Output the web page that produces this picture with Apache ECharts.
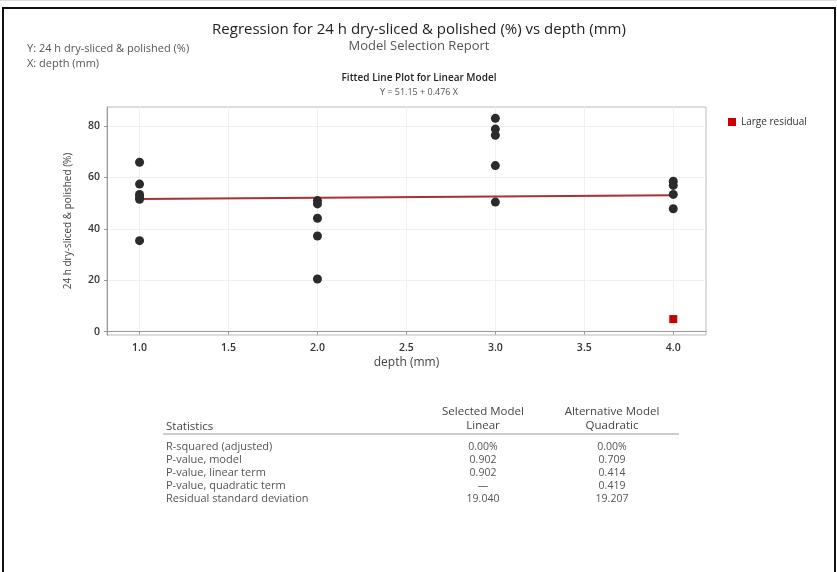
<!DOCTYPE html>
<html>
<head>
<meta charset="utf-8">
<script src="https://cdn.jsdelivr.net/npm/echarts@6/dist/echarts.min.js"></script>
<style>
html,body{margin:0;padding:0;background:#fff;}
#chart{width:837px;height:572px;}
</style>
</head>
<body>
<div id="chart"></div>
<script>
// ---- data ----
var depthPoints = [
  [1, 65.9], [1, 57.4], [1, 53.4], [1, 52.4], [1, 51.5], [1, 35.4],
  [2, 51.0], [2, 49.7], [2, 44.1], [2, 37.2], [2, 20.5],
  [3, 83.0], [3, 78.8], [3, 76.4], [3, 64.6], [3, 50.4],
  [4, 58.5], [4, 56.9], [4, 53.4], [4, 47.8]
];
var largeResidualPoints = [[4, 4.9]];
var fittedLine = [[1, 51.63], [4, 53.05]];
var xTicks = [1.0, 1.5, 2.0, 2.5, 3.0, 3.5, 4.0];
var yTicks = [0, 20, 40, 60, 80];

var tableHeader1 = ['', 'Selected Model', 'Alternative Model'];
var tableHeader2 = ['Statistics', 'Linear', 'Quadratic'];
var statLabels = ['R-squared (adjusted)', 'P-value, model', 'P-value, linear term', 'P-value, quadratic term', 'Residual standard deviation'];
var linearValues = ['0.00%', '0.902', '0.902', '\u2014', '19.040'];
var quadraticValues = ['0.00%', '0.709', '0.414', '0.419', '19.207'];

var titleText = 'Regression for 24 h dry-sliced & polished (%) vs depth (mm)';
var subtitleText = 'Model Selection Report';
var plotTitle = 'Fitted Line Plot for Linear Model';
var equationText = 'Y = 51.15 + 0.476 X';

var FONT = '"Open Sans", "Noto Sans", sans-serif';

var chart = echarts.init(document.getElementById('chart'), null, {renderer: 'canvas'});

function txt(x, y, s, size, color, align, weight) {
  return {
    type: 'text', x: x, y: y, silent: true,
    style: {
      text: s, fontSize: size, fill: color, fontFamily: FONT,
      align: align || 'left', verticalAlign: 'middle', fontWeight: weight || 'normal'
    }
  };
}

var graphics = [
  {type: 'rect', shape: {x: 0, y: 0, width: 837, height: 1}, style: {fill: '#ddd'}, silent: true},
  {type: 'rect', shape: {x: 3, y: 8, width: 832, height: 580}, style: {fill: 'none', stroke: '#111', lineWidth: 2}, silent: true},
  txt(419, 30, titleText, 15, '#222', 'center'),
  txt(419, 46, subtitleText, 13, '#555', 'center'),
  txt(27, 49, 'Y: 24 h dry-sliced & polished (%)', 11, '#555'),
  txt(27, 64, 'X: depth (mm)', 11, '#555'),
  txt(419, 78, plotTitle, 10, '#222', 'center', 600),
  txt(419, 92, equationText, 9, '#555', 'center'),
  // table
  txt(483, 412, tableHeader1[1], 11.5, '#444', 'center'),
  txt(612, 412, tableHeader1[2], 11.5, '#444', 'center'),
  txt(166, 427, tableHeader2[0], 11.5, '#444'),
  txt(483, 426, tableHeader2[1], 11.5, '#444', 'center'),
  txt(612, 426, tableHeader2[2], 11.5, '#444', 'center'),
  {type: 'line', shape: {x1: 163, y1: 434, x2: 679, y2: 434}, style: {stroke: '#999', lineWidth: 1}, silent: true}
];
var rowY = [447, 460, 473, 486, 499];
statLabels.forEach(function (lab, i) {
  graphics.push(txt(166, rowY[i], lab, 11, '#555'));
  graphics.push(txt(483, rowY[i], linearValues[i], 10.5, '#555', 'center'));
  graphics.push(txt(612, rowY[i], quadraticValues[i], 10.5, '#555', 'center'));
});

var option = {
  animation: false,
  backgroundColor: '#fff',
  textStyle: {fontFamily: FONT},
  grid: {left: 107, top: 107, right: 131, bottom: 237, show: true, borderColor: '#bbb', borderWidth: 1, backgroundColor: 'transparent'},
  legend: {
    data: [{name: 'Large residual', icon: 'rect'}],
    left: 723, top: 112, itemWidth: 8, itemHeight: 8, itemGap: 6,
    textStyle: {fontSize: 10, color: '#333', fontFamily: FONT},
    selectedMode: false
  },
  xAxis: {
    type: 'value', min: 0.817, max: 4.184,
    name: 'depth (mm)', nameLocation: 'middle', nameGap: 22,
    nameTextStyle: {fontSize: 12, color: '#444', fontFamily: FONT},
    axisLine: {show: true, lineStyle: {color: '#999'}},
    axisTick: {show: true, length: 3, lineStyle: {color: '#999'}, customValues: xTicks},
    axisLabel: {customValues: xTicks, fontSize: 10.5, color: '#333', fontWeight: 600, margin: 8,
      formatter: function (v) { return v.toFixed(1); }},
    splitLine: {show: true, lineStyle: {color: '#f0f0f0'}, customValues: xTicks}
  },
  yAxis: {
    type: 'value', min: -1.3, max: 87.4,
    name: '24 h dry-sliced & polished (%)', nameLocation: 'middle', nameGap: 34, nameRotate: 90,
    nameTextStyle: {fontSize: 10, color: '#444', fontFamily: FONT},
    axisLine: {show: true, lineStyle: {color: '#999'}},
    axisTick: {show: true, length: 3, lineStyle: {color: '#999'}, customValues: yTicks},
    axisLabel: {customValues: yTicks, fontSize: 10.5, color: '#333', fontWeight: 600, margin: 7},
    splitLine: {show: true, lineStyle: {color: '#f0f0f0'}, customValues: yTicks}
  },
  series: [
    {
      name: 'Fit', type: 'line', data: fittedLine, symbol: 'none', silent: true,
      lineStyle: {color: '#a83232', width: 2}, z: 2
    },
    {
      name: 'Data', type: 'scatter', data: depthPoints, symbol: 'circle', symbolSize: 9,
      itemStyle: {color: '#2b2b2b', opacity: 1}, z: 3
    },
    {
      name: 'Large residual', type: 'scatter', data: largeResidualPoints, symbol: 'rect', symbolSize: 8,
      itemStyle: {color: '#cc0000', opacity: 1}, z: 3
    }
  ],
  graphic: graphics
};
chart.setOption(option);
</script>
</body>
</html>
